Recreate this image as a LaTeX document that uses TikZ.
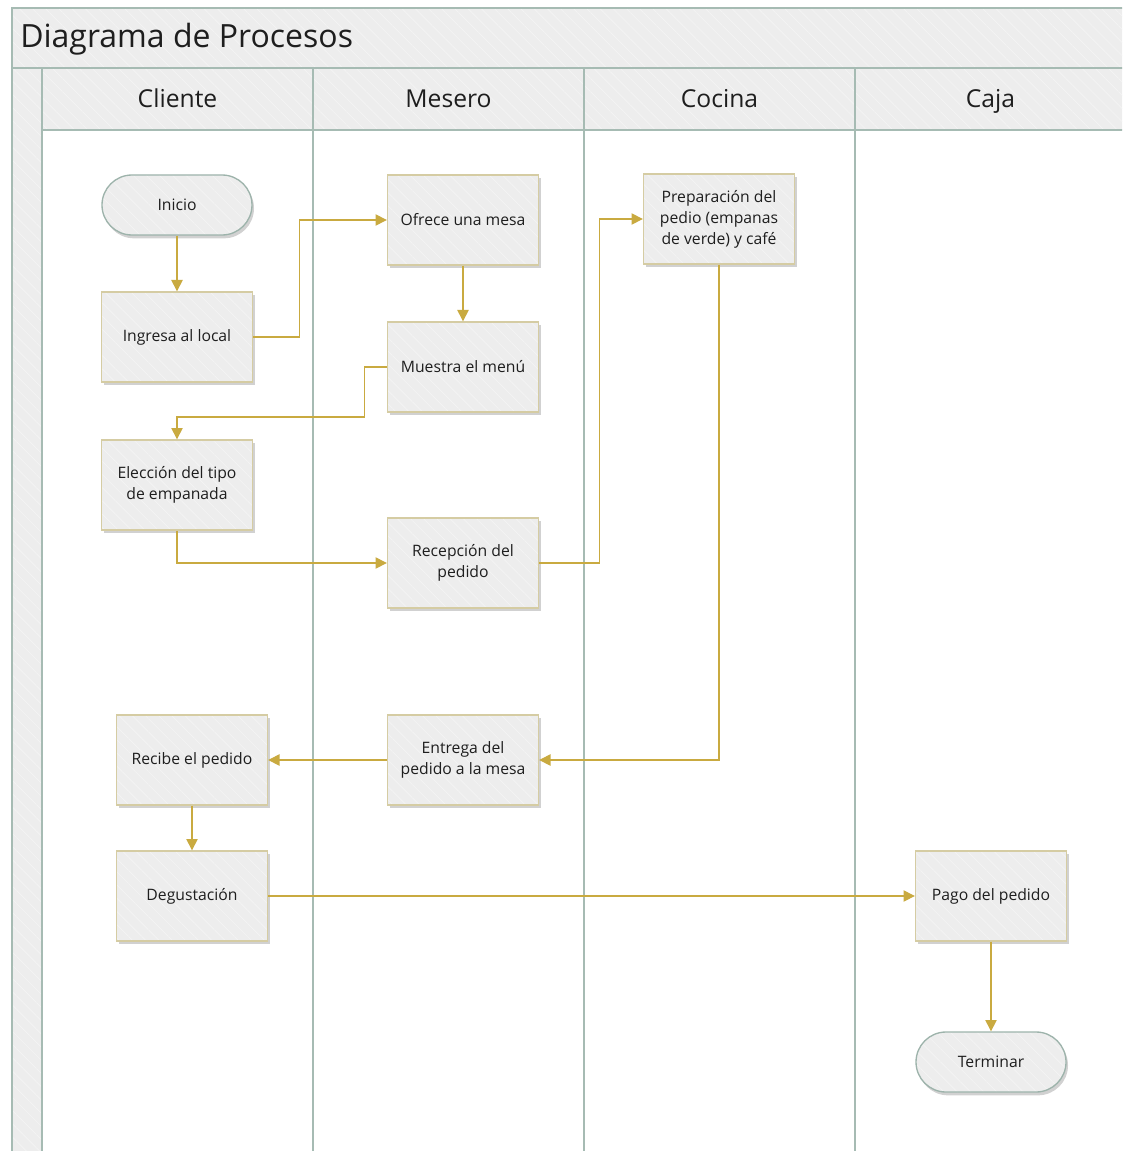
\documentclass[tikz,border=0pt]{standalone}
\usepackage{fontspec}
\setmainfont{Open Sans}
\usetikzlibrary{arrows.meta,shadows,patterns.meta}
\definecolor{lanefill}{HTML}{EDEDED}
\definecolor{laneline}{HTML}{A6BBB3}
\definecolor{boxline}{HTML}{D5CCA3}
\definecolor{termline}{HTML}{9DB3AB}
\definecolor{flow}{HTML}{C9AA40}
\definecolor{txt}{HTML}{1E1E1E}
\definecolor{hatch}{HTML}{F4F4F4}
\begin{document}
\begin{tikzpicture}[x=0.75pt,y=-0.75pt,
  hatched/.style={preaction={fill=lanefill}, pattern={Lines[angle=-45,distance=7pt,line width=0.5pt]}, pattern color=hatch},
  shad/.style={drop shadow={shadow xshift=1.5pt, shadow yshift=-2.5pt, fill=black, opacity=0.18}},
  procbox/.style={shad, hatched, draw=boxline, line width=1pt, minimum width=113.25pt, minimum height=67.5pt, align=center, text=txt, font=\fontsize{11.8}{15.75}\selectfont, inner sep=2pt},
  termbox/.style={shad, hatched, draw=termline, line width=1pt, rounded corners=22.5pt, minimum width=112.5pt, minimum height=45pt, align=center, text=txt, font=\fontsize{11.8}{15.75}\selectfont},
  lane/.style={draw=laneline, line width=1.4pt},
  header/.style={text=txt, font=\fontsize{18.5}{22}\selectfont, anchor=base, inner sep=0pt},
  conn/.style={draw=flow, line width=0.9pt, -{Triangle[length=8.5pt,width=8.5pt]}}
]
\useasboundingbox (0,0) rectangle (1122,1151);
\begin{scope}
\clip (0,0) rectangle (1122,1151);
% pool background
\path[hatched] (12,8) rectangle (1135,68);
\path[hatched] (12,68) rectangle (42,1160);
\path[hatched] (42,68) rectangle (1135,130);
\draw[lane] (12,1160) -- (12,8) -- (1135,8);
\draw[lane] (12,68) -- (1135,68);
\draw[lane] (42,68) -- (42,1160);
\draw[lane] (42,130) -- (1135,130);
\draw[lane] (313,68) -- (313,1160);
\draw[lane] (584,68) -- (584,1160);
\draw[lane] (855,68) -- (855,1160);
\end{scope}
\node[anchor=base west, inner sep=0pt, text=txt, font=\fontsize{24}{29}\selectfont] (title) at (20,48) {Diagrama de Procesos};
\node[header] (hcli) at (177.5,108) {Cliente};
\node[header] (hmes) at (448.5,108) {Mesero};
\node[header] (hcoc) at (719.5,108) {Cocina};
\node[header] (hcaj) at (990.5,108) {Caja};
% nodes
\node[termbox] (inicio) at (177,205) {Inicio};
\node[procbox] (ingresa) at (177,337) {Ingresa al local};
\node[procbox] (ofrece) at (463,220) {Ofrece una mesa};
\node[procbox] (muestra) at (463,367) {Muestra el menú};
\node[procbox] (eleccion) at (177,485) {Elección del tipo\\de empanada};
\node[procbox] (recepcion) at (463,563) {Recepción del\\pedido};
\node[procbox] (prep) at (719,219) {Preparación del\\pedio (empanas\\de verde) y café};
\node[procbox] (entrega) at (463,760) {Entrega del\\pedido a la mesa};
\node[procbox] (recibe) at (192,760) {Recibe el pedido};
\node[procbox] (degust) at (192,896) {Degustación};
\node[procbox] (pago) at (991,896) {Pago del pedido};
\node[termbox] (fin) at (991,1062) {Terminar};
% connectors
\draw[conn] (inicio.south) -- (ingresa.north);
\draw[conn] (ingresa.east) -- ++(46,0) |- (ofrece.west);
\draw[conn] (ofrece.south) -- (muestra.north);
\draw[conn] (muestra.west) -- ++(-22,0) -- ++(0,50) -| (eleccion.north);
\draw[conn] (eleccion.south) |- (recepcion.west);
\draw[conn] (recepcion.east) -- ++(60,0) |- (prep.west);
\draw[conn] (prep.south) |- (entrega.east);
\draw[conn] (entrega.west) -- (recibe.east);
\draw[conn] (recibe.south) -- (degust.north);
\draw[conn] (degust.east) -- (pago.west);
\draw[conn] (pago.south) -- (fin.north);
\end{tikzpicture}
\end{document}
